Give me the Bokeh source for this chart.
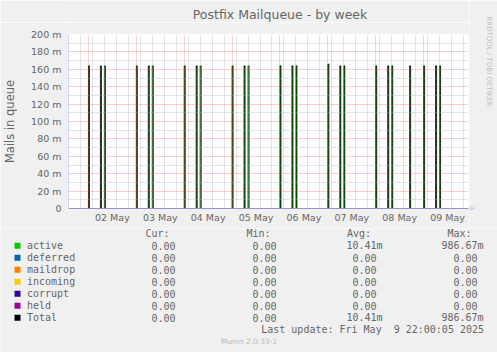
import math
import pandas as pd
from bokeh.plotting import figure
from bokeh.layouts import column, row
from bokeh.models import Range1d, FixedTicker, DatetimeTickFormatter
from bokeh.core.properties import value
from bokeh.embed import file_html
from bokeh.resources import INLINE

# ---------------- data ----------------
title_text = "Postfix Mailqueue - by week"
y_label = "Mails in queue"

x_start = "2025-05-01 14:00"
x_end = "2025-05-09 22:30"

# sample times (30-min consolidated) where the active queue was non-zero
spike_times = [
    "2025-05-02 00:00", "2025-05-02 06:00", "2025-05-02 08:00",
    "2025-05-03 00:00", "2025-05-03 06:00", "2025-05-03 08:00",
    "2025-05-04 00:00", "2025-05-04 06:00", "2025-05-04 08:00",
    "2025-05-05 00:00", "2025-05-05 06:00", "2025-05-05 08:00",
    "2025-05-06 00:00", "2025-05-06 06:00", "2025-05-06 08:00",
    "2025-05-07 00:00", "2025-05-07 06:00", "2025-05-07 08:00",
    "2025-05-08 00:00", "2025-05-08 06:00", "2025-05-08 08:00", "2025-05-08 17:00",
    "2025-05-09 00:00", "2025-05-09 06:00", "2025-05-09 08:00",
]
# active queue value at those samples (milli-mails)
active_vals = [
    164, 164, 164,
    164, 164, 164,
    164, 164, 164,
    164, 164, 164,
    164, 164, 164,
    166, 164, 164,
    164, 164, 164, 164,
    164, 164, 164,
]

y_ticks = [0, 20, 40, 60, 80, 100, 120, 140, 160, 180, 200]
y_tick_labels = ["0", "20 m", "40 m", "60 m", "80 m", "100 m", "120 m",
                 "140 m", "160 m", "180 m", "200 m"]
y_minor = [10, 30, 50, 70, 90, 110, 130, 150, 170, 190]

day_labels_at = ["2025-05-02 12:00", "2025-05-03 12:00", "2025-05-04 12:00",
                 "2025-05-05 12:00", "2025-05-06 12:00", "2025-05-07 12:00",
                 "2025-05-08 12:00", "2025-05-09 12:00"]
midnights = ["2025-05-02", "2025-05-03", "2025-05-04", "2025-05-05",
             "2025-05-06", "2025-05-07", "2025-05-08", "2025-05-09"]

series_names = ["active", "deferred", "maildrop", "incoming", "corrupt", "held", "Total"]
series_colors = ["#00CC00", "#0066B3", "#FF8000", "#FFCC00", "#330099", "#990099", "#000000"]
cur_vals = [0.0, 0.0, 0.0, 0.0, 0.0, 0.0, 0.0]
min_vals = [0.0, 0.0, 0.0, 0.0, 0.0, 0.0, 0.0]
avg_vals = [0.01041, 0.0, 0.0, 0.0, 0.0, 0.0, 0.01041]
max_vals = [0.98667, 0.0, 0.0, 0.0, 0.0, 0.0, 0.98667]
col_headers = ["Cur:", "Min:", "Avg:", "Max:"]
# ctime-style date: the day is padded with a second space (kept with a no-break space)
last_update = "Last update: Fri May \u00a09 22:00:05 2025"
munin_version = "Munin 2.0.33-1"
rrd_credit = "RRDTOOL / TOBI OETIKER"


def to_ms(lst):
    return [int(v) for v in pd.to_datetime(lst).values.astype("datetime64[ms]").astype("int64")]


FONT = "DejaVu Sans"
MONO = "DejaVu Sans Mono"
FONT_COLOR = "#666666"
BG = "#F0F0F0"
AXIS_C = "#CFD6F8"

W_MAIN = 469
H_HEAD = 22
H_CHART = 206
H_LEG = 352 - H_HEAD - H_CHART
W_STRIP = 497 - W_MAIN


def text_fig(w, h, x0, y0):
    f = figure(width=w, height=h, x_range=Range1d(x0, x0 + w), y_range=Range1d(y0 + h, y0),
               output_backend="svg", toolbar_location=None, min_border=0,
               x_axis_location=None, y_axis_location=None,
               background_fill_color=BG, border_fill_color=BG, outline_line_color=None)
    f.xgrid.visible = False
    f.ygrid.visible = False
    return f


# ---------------- header (title) ----------------
head = text_fig(W_MAIN, H_HEAD, 0, 0)
head.text(x=[248], y=[14], text=[title_text], text_font=value(FONT),
          text_font_size="12.5px", text_color=FONT_COLOR,
          text_align="center", text_baseline="middle")

# ---------------- chart ----------------
xs_ms, xe_ms = to_ms([x_start, x_end])
spike_ms = to_ms(spike_times)
HALF_HOUR = 30 * 60 * 1000

FRAME_LEFT, FRAME_RIGHT, FRAME_TOP, FRAME_BOTTOM = 67, 468, 34, 208

p = figure(width=W_MAIN, height=H_CHART, x_axis_type="datetime",
           x_range=Range1d(xs_ms, xe_ms), y_range=Range1d(0, 200),
           output_backend="svg", toolbar_location=None,
           min_border_left=FRAME_LEFT, min_border_right=W_MAIN - FRAME_RIGHT,
           min_border_top=FRAME_TOP - H_HEAD,
           min_border_bottom=H_HEAD + H_CHART - FRAME_BOTTOM,
           background_fill_color="#FFFFFF", border_fill_color=BG,
           outline_line_color=None)

noon_ms = to_ms(day_labels_at)
mid_ms = to_ms(midnights)
minor_x = [v for v in to_ms(pd.date_range(x_start, x_end, freq="6h").strftime("%Y-%m-%d %H:%M"))
           if v not in mid_ms]

p.xgrid[0].ticker = FixedTicker(ticks=mid_ms, minor_ticks=minor_x)
p.ygrid[0].ticker = FixedTicker(ticks=y_ticks, minor_ticks=y_minor)
for g in (p.xgrid[0], p.ygrid[0]):
    g.level = "overlay"
    g.grid_line_color = "#FF4040"
    g.grid_line_alpha = 0.5
    g.grid_line_dash = "1 1"
    g.minor_grid_line_color = "#B0B0B0"
    g.minor_grid_line_alpha = 0.7
    g.minor_grid_line_dash = "1 1"

xa = p.xaxis[0]
xa.ticker = FixedTicker(ticks=noon_ms)
fmt = "%d %b"
xa.formatter = DatetimeTickFormatter(microseconds=fmt, milliseconds=fmt, seconds=fmt,
                                     minsec=fmt, minutes=fmt, hourmin=fmt, hours=fmt,
                                     days=fmt, months=fmt, years=fmt)
xa.major_tick_line_color = None
xa.minor_tick_line_color = None
xa.major_tick_in = 0
xa.major_tick_out = 0
xa.minor_tick_out = 0
xa.axis_line_color = "#9890C8"
xa.major_label_standoff = 3
xa.major_label_text_font = FONT
xa.major_label_text_font_size = "9.5px"
xa.major_label_text_color = FONT_COLOR

ya = p.yaxis[0]
ya.ticker = FixedTicker(ticks=y_ticks)
ya.major_label_overrides = {t: l for t, l in zip(y_ticks, y_tick_labels)}
ya.major_tick_line_color = None
ya.minor_tick_line_color = None
ya.major_tick_in = 0
ya.major_tick_out = 0
ya.minor_tick_out = 0
ya.axis_line_color = AXIS_C
ya.major_label_standoff = 7
ya.major_label_text_font = FONT
ya.major_label_text_font_size = "9.5px"
ya.major_label_text_color = FONT_COLOR
ya.axis_label = y_label
ya.axis_label_standoff = 11
ya.axis_label_text_font = FONT
ya.axis_label_text_font_size = "11.5px"
ya.axis_label_text_font_style = "normal"
ya.axis_label_text_color = FONT_COLOR

sx = [[t, t, t + HALF_HOUR, t + HALF_HOUR] for t in spike_ms]
sy = [[0, v, v, 0] for v in active_vals]
p.patches(sx, sy, fill_color=series_colors[0], line_color=None)
p.multi_line(sx, sy, line_color=series_colors[-1], line_width=0.8)

# ---------------- right strip (x-axis arrow head + rrdtool credit) ----------------
strip = text_fig(W_STRIP, H_HEAD + H_CHART, W_MAIN, 0)
strip.patch([W_MAIN, W_MAIN + 6, W_MAIN], [FRAME_BOTTOM - 2.5, FRAME_BOTTOM, FRAME_BOTTOM + 2.5],
            fill_color=AXIS_C, line_color=AXIS_C, line_width=0.5)
strip.segment(x0=[W_MAIN - 1], y0=[FRAME_BOTTOM], x1=[W_MAIN + 1], y1=[FRAME_BOTTOM],
              line_color=AXIS_C)
strip.text(x=[488.5], y=[61], text=[rrd_credit], text_font=value(FONT),
           text_font_size="7px", text_color="#BEBEBE", angle=-math.pi / 2,
           text_align="center", text_baseline="middle")

# ---------------- legend ----------------
leg = text_fig(497, H_LEG, 0, H_HEAD + H_CHART)


def fmt_val(v):
    if v == 0:
        return "0.00", False
    if abs(v) < 1:
        return "%.2fm" % (v * 1000), True
    return "%.2f" % v, False


CW = 6.02
row0 = 245.3
rows = [row0 + 12 * i for i in range(len(series_names))]
col_right = [181.1, 282.1, 382.1, 483.1]
header_x = [145, 246, 346.5, 447]

leg.rect(x=[17] * len(rows), y=rows, width=6, height=6, fill_color=series_colors, line_color=None)
mono = dict(text_font=value(MONO), text_font_size="10px", text_color=FONT_COLOR,
            text_baseline="middle")
leg.text(x=[26.5] * len(rows), y=rows, text=series_names, text_align="left", **mono)
leg.text(x=header_x, y=[row0 - 12] * 4, text=col_headers, text_align="left", **mono)

vx, vy, vt = [], [], []
for cr, vals in zip(col_right, [cur_vals, min_vals, avg_vals, max_vals]):
    for i, v in enumerate(vals):
        s, suffix = fmt_val(v)
        vx.append(cr - (0 if suffix else CW))
        vy.append(rows[i])
        vt.append(s)
leg.text(x=vx, y=vy, text=vt, text_align="right", **mono)
leg.text(x=[483.5], y=[row0 + 12 * 7], text=[last_update], text_align="right", **mono)
leg.text(x=[248.5], y=[341], text=[munin_version], text_font=value(FONT),
         text_font_size="7.5px", text_color="#BBBBBB", text_align="center",
         text_baseline="middle")

layout = column(row(column(head, p), strip), leg)
open("out.html", "w").write(file_html(layout, INLINE))
